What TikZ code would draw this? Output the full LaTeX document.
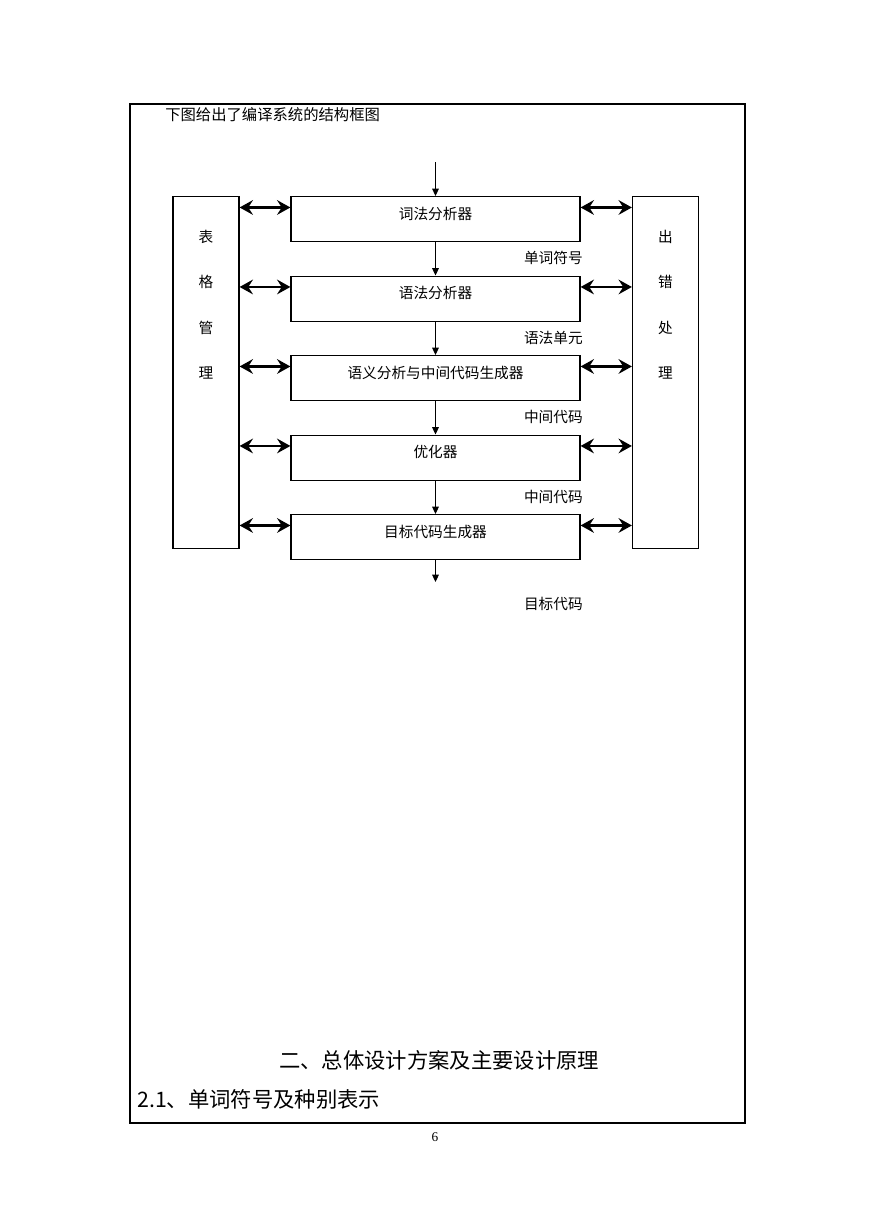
\documentclass[tikz,border=0pt]{standalone}
\usepackage{fontspec}
\setmainfont{Noto Sans CJK SC}
\newfontfamily\pagefont{Liberation Serif}
\usetikzlibrary{arrows.meta}

\begin{document}
\begin{tikzpicture}[
    x=0.75pt,y=-0.75pt,
    boxline/.style={line width=0.9pt},
    cjk/.style={font=\fontsize{11}{13}\selectfont},
    stage/.style={boxline,draw=black,cjk,minimum width=216.75pt,
                  inner sep=0pt,text height=17pt,text depth=16.75pt},
    side/.style={boxline,draw=black,minimum width=49.5pt,minimum height=264pt,inner sep=0pt},
    flow/.style={line width=0.75pt,-{Triangle[length=5.5pt,width=5pt]}},
    dbl/.style={line width=2pt,{Stealth[length=10pt,width=11pt,inset=3.5pt]}-{Stealth[length=10pt,width=11pt,inset=3.5pt]}},
    tag/.style={cjk,anchor=east,inner sep=0pt},
  ]
  \useasboundingbox (0,0) rectangle (869,1228);
  % page frame
  \draw[line width=0.8pt] (130,104) rectangle (745,1123);
  \node[anchor=west,inner sep=0pt,font=\fontsize{11.5}{13}\selectfont] (intro) at (165,115) {下图给出了编译系统的结构框图};

  % side boxes
  \node[side,anchor=north] (tbl) at (206,196) {};
  \node[side,anchor=north] (err) at (665.5,196) {};
  \foreach \ca/\cb [count=\k] in {表/出,格/错,管/处,理/理}{
    \pgfmathsetmacro\cy{237+45.3*(\k-1)}
    \node[cjk] (tbl\k) at (206,\cy) {\ca};
    \node[cjk] (err\k) at (665.5,\cy) {\cb};
  }

  % stages, with the links to both sides
  \foreach \n/\txt/\ty in {lex/词法分析器/196,syn/语法分析器/275.5,sem/语义分析与中间代码生成器/355,opt/优化器/434.5,gen/目标代码生成器/514}{
    \node[stage,anchor=north] (\n) at (435.5,\ty) {\txt};
    \coordinate (\n l) at ([yshift=-8.6pt]\n.north west);
    \coordinate (\n r) at ([yshift=-8.6pt]\n.north east);
    \draw[dbl] (\n l -| tbl.east) -- (\n l);
    \draw[dbl] (\n r) -- (\n r -| err.west);
  }

  % main flow
  \coordinate (in) at (435.5,162);
  \coordinate (out) at (435.5,582);
  \draw[flow] (in) -- (lex.north);
  \foreach \a/\b in {lex/syn,syn/sem,sem/opt,opt/gen}
    \draw[flow] (\a.south) -- (\b.north);
  \draw[flow] (gen.south) -- (out);

  % what passes between stages
  \foreach \txt/\ty [count=\k] in {单词符号/258,语法单元/338,中间代码/417,中间代码/497,目标代码/604}
    \node[tag] (w\k) at (583,\ty) {\txt};

  % section titles and page number
  \node[font=\fontsize{16}{19}\selectfont] (head) at (439,1060) {二、总体设计方案及主要设计原理};
  \node[anchor=west,inner sep=0pt,font=\fontsize{16}{19}\selectfont] (sub) at (137,1099) {2.1、单词符号及种别表示};
  \node[font=\pagefont\fontsize{10}{12}\selectfont] (pg) at (435,1137) {6};
\end{tikzpicture}
\end{document}
